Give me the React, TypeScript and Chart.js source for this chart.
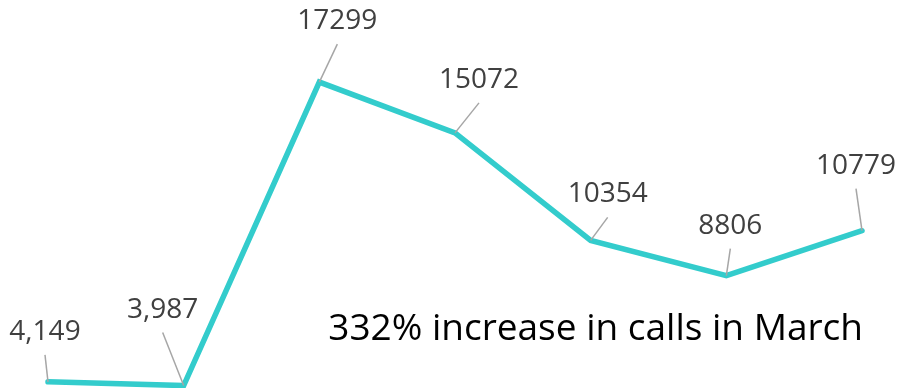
import React, { useEffect, useRef } from "react";
import { Chart, registerables } from "chart.js";

Chart.register(...registerables);

const categories = ["Jan", "Feb", "Mar", "Apr", "May", "Jun", "Jul"];
const calls = [4149, 3987, 17299, 15072, 10354, 8806, 10779];
const valueLabels = ["4,149", "3,987", "17299", "15072", "10354", "8806", "10779"];
const annotationText = "332% increase in calls in March";

// label offsets from each point (layout only)
const labelOffsetX = [-3, -21, 18, 24, 17, 4, -6];
const labelOffsetY = [-50, -76, -61, -53, -46, -50, -65];

const labelPlugin = {
  id: "valueLabels",
  afterDatasetsDraw(chart: any) {
    const ctx = chart.ctx;
    const meta = chart.getDatasetMeta(0);
    ctx.save();
    meta.data.forEach((pt: any, i: number) => {
      const lx = pt.x + labelOffsetX[i];
      const ly = pt.y + labelOffsetY[i];
      ctx.strokeStyle = "#a6a6a6";
      ctx.lineWidth = 1.5;
      ctx.beginPath();
      ctx.moveTo(pt.x, pt.y);
      ctx.lineTo(lx, ly + 23);
      ctx.stroke();
      ctx.fillStyle = "#404040";
      ctx.font = "28px 'Open Sans'";
      ctx.textAlign = "center";
      ctx.textBaseline = "middle";
      ctx.fillText(valueLabels[i], lx, ly);
    });
    const last = meta.data[meta.data.length - 1];
    ctx.fillStyle = "#000000";
    ctx.font = "37px 'Open Sans'";
    ctx.textAlign = "right";
    ctx.textBaseline = "alphabetic";
    ctx.fillText(annotationText, last.x + 1, chart.chartArea.bottom - 48);
    ctx.restore();
  },
};

export default function App() {
  const ref = useRef<HTMLCanvasElement | null>(null);
  useEffect(() => {
    if (!ref.current) return;
    const chart = new Chart(ref.current, {
      type: "line",
      data: {
        labels: categories,
        datasets: [
          {
            data: calls,
            borderColor: "#33CCCC",
            borderWidth: 5.5,
            borderCapStyle: "round",
            pointRadius: 0,
            tension: 0,
            clip: false as any,
          },
        ],
      },
      options: {
        animation: false,
        responsive: false,
        maintainAspectRatio: false,
        layout: { padding: { left: 48, right: 35, top: 0, bottom: 0 } },
        plugins: { legend: { display: false }, tooltip: { enabled: false } },
        scales: {
          x: { display: false },
          y: { display: false, min: 3880, max: 20900 },
        },
      },
      plugins: [labelPlugin],
    });
    return () => chart.destroy();
  }, []);
  return (
    <div style={{ position: "absolute", left: 0, top: 0, width: 897, height: 388, background: "#fff" }}>
      <canvas ref={ref} width={897} height={388} />
    </div>
  );
}
